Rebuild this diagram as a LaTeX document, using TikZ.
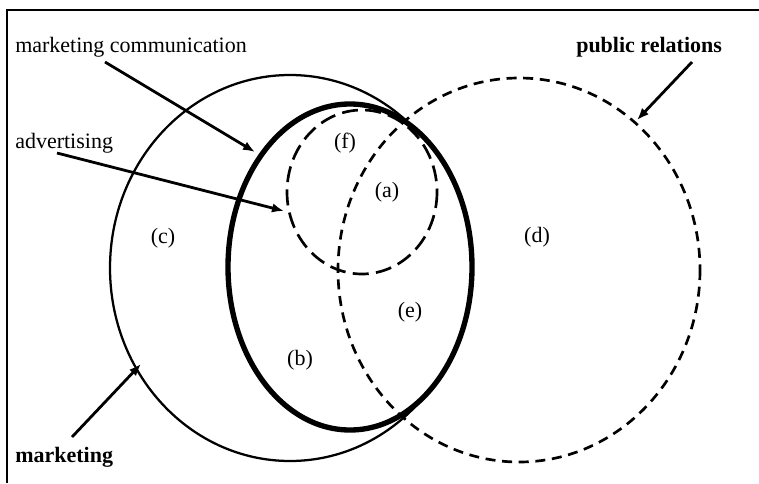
\documentclass[tikz,border=0pt]{standalone}
\usepackage{fontspec}
\setmainfont{Liberation Serif}
\usetikzlibrary{arrows.meta}

\begin{document}
\begin{tikzpicture}[x=0.75pt,y=0.75pt,yscale=-1,xscale=1,
    lbl/.style={inner sep=0.75pt, font=\fontsize{16.5}{20}\selectfont},
    region/.style={lbl, anchor=center},
    pointer/.style={line width=2.1pt, -{Latex[length=9pt,width=7pt]}},
    prline/.style={line width=2pt, dash pattern=on 7.5pt off 5pt},
    adline/.style={line width=2pt, dash pattern=on 12pt off 5.5pt}]
    \useasboundingbox (0,0) rectangle (759,483);

    % frame (only top and left edges show)
    \draw [line width=1.5pt] (7,483) -- (7,10) -- (760,10) ;

    % marketing
    \draw [line width=1.7pt] (290,268) ellipse [x radius=180, y radius=193] ;
    % part of marketing inside the bold ellipse is hidden
    \fill [white] (350,267) ellipse [x radius=122, y radius=163] ;
    % public relations
    \draw [prline] (519,270) ellipse [x radius=181, y radius=192] ;
    % advertising
    \draw [adline] (362,192) ellipse [x radius=75, y radius=82] ;
    % marketing communication
    \draw [line width=4pt] (350,267) ellipse [x radius=122, y radius=163] ;

    \node (mcLabel) at (14,47) [lbl, anchor=west] {marketing communication};
    \node (adLabel) at (14,143) [lbl, anchor=west] {advertising};
    \node (prLabel) at (575,47) [lbl, anchor=west] {\bfseries public relations};
    \node (mkLabel) at (14,457) [lbl, anchor=west] {\bfseries marketing};

    \node (regF) at (345,143) [region] {(f)};
    \node (regA) at (387,192) [region] {(a)};
    \node (regC) at (163,238) [region] {(c)};
    \node (regD) at (537,237) [region] {(d)};
    \node (regE) at (410,312) [region] {(e)};
    \node (regB) at (300,360) [region] {(b)};

    \coordinate (mcTail) at (105,62);
    \coordinate (mcTip) at (255,152);
    \coordinate (adTail) at (57,153);
    \coordinate (adTip) at (284,211);
    \coordinate (prTail) at (692,62);
    \coordinate (prTip) at (637,120);
    \coordinate (mkTail) at (72,437);
    \coordinate (mkTip) at (141,364);

    \draw [pointer] (mcTail) -- (mcTip) ;
    \draw [pointer] (adTail) -- (adTip) ;
    \draw [pointer] (prTail) -- (prTip) ;
    \draw [pointer] (mkTail) -- (mkTip) ;
\end{tikzpicture}
\end{document}
